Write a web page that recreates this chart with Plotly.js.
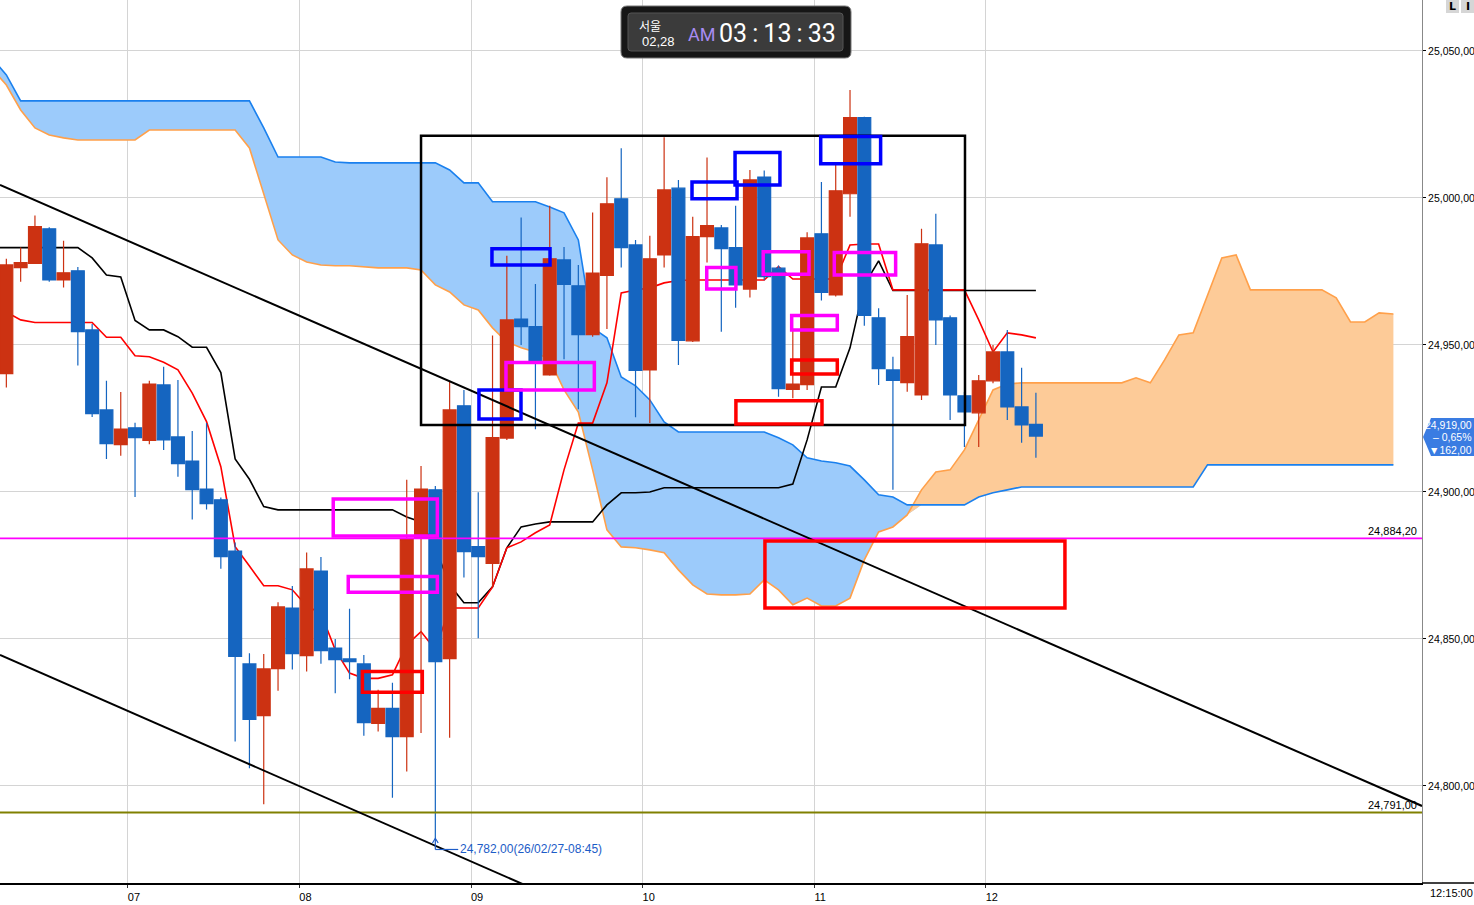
<!DOCTYPE html>
<html><head><meta charset="utf-8">
<script src="https://cdn.plot.ly/plotly-3.0.1.min.js"></script>
<style>html,body{margin:0;padding:0;background:#fff;overflow:hidden}#chart{width:1474px;height:905px}</style>
</head><body><div id="chart"></div>
<script>
// ---------- DATA ----------
const dayLabels = ['07','08','09','10','11','12'];
const dayStartIdx = [8.5, 20.5, 32.5, 44.5, 56.5, 68.5];
const priceTicks = [24800, 24850, 24900, 24950, 25000, 25050];
const priceTickText = ['24,800,00','24,850,00','24,900,00','24,950,00','25,000,00','25,050,00'];

// candles (index 0 = first visible bar)
const openP = [24940.2,24976.3,24977.7,24989.5,24972.1,24975.2,24955.1,24927.9,24916.1,24921.8,
 24917.5,24936.4,24918.7,24910.5,24901.0,24897.3,24879.9,24841.5,24823.9,24839.9,
 24860.5,24844.3,24873.1,24846.9,24843.2,24841.5,24821.3,24826.4,24816.8,24884.4,
 24900.7,24843.3,24929.3,24881.4,24875.7,24918.3,24958.8,24956.2,24939.8,24978.9,
 24970.1,24953.5,24973.6,24999.7,24984.0,24941.5,24980.6,25003.3,24951.4,24986.8,
 24989.8,24983.1,24969.0,25007.1,24976.1,24934.9,24936.5,24987.8,24967.0,25001.4,
 25027.3,24959.2,24941.5,24937.2,24933.0,24984.0,24959.2,24932.7,24926.9,24937.8,
 24947.6,24928.9,24923.0];
const highP = [24979.3,24983.1,24994.0,24990.0,24985.4,24976.5,24957.1,24937.8,24934.0,24923.5,
 24937.8,24942.6,24938.1,24920.7,24923.4,24898.1,24882.8,24845.1,24844.9,24862.5,
 24868.0,24879.4,24877.9,24850.0,24860.3,24844.5,24832.7,24835.1,24904.1,24908.8,
 24902.0,24937.4,24934.7,24899.9,24953.2,24980.3,24993.3,24970.7,24997.3,24983.3,
 24977.2,24995.0,25007.0,25016.9,24985.7,24987.1,25020.6,25006.1,24993.6,25013.7,
 24990.8,24997.3,25009.5,25009.3,24977.0,24955.1,24988.3,25005.4,25011.8,25036.7,
 25027.6,24962.5,24946.0,24967.0,24989.5,24994.6,24960.0,24934.0,24939.8,24950.0,
 24955.1,24942.2,24933.7];
const lowP = [24935.5,24971.5,24977.5,24971.5,24969.5,24943.0,24925.5,24911.2,24912.3,24898.3,
 24916.2,24914.3,24905.2,24890.6,24894.0,24873.9,24815.1,24806.0,24793.8,24832.4,
 24839.6,24838.9,24841.6,24831.5,24836.3,24817.1,24818.5,24796.0,24804.9,24818.0,
 24782.0,24816.4,24870.9,24850.2,24867.8,24917.7,24950.0,24921.3,24939.5,24945.1,
 24928.1,24952.8,24955.4,24976.3,24925.4,24923.4,24976.3,24943.2,24951.0,24978.0,
 24954.5,24962.6,24966.1,24972.0,24932.4,24931.9,24934.7,24965.1,24966.5,24993.6,
 24956.5,24936.4,24900.7,24934.1,24931.3,24950.0,24924.5,24915.3,24915.3,24937.0,
 24924.5,24916.7,24911.6];
const closeP = [24977.2,24978.0,24990.2,24972.1,24974.5,24954.5,24926.6,24916.4,24921.4,24918.5,
 24936.7,24917.7,24909.6,24900.8,24896.0,24878.0,24844.1,24822.6,24839.8,24860.9,
 24845.0,24873.8,24846.0,24843.0,24842.3,24821.5,24826.4,24816.8,24883.9,24901.0,
 24842.3,24927.9,24879.7,24878.0,24918.5,24958.5,24956.2,24944.1,24979.3,24970.6,
 24953.5,24974.4,24998.0,24983.1,24941.3,24979.3,25002.7,24951.5,24986.8,24990.6,
 24982.7,24970.4,25006.1,24973.2,24935.1,24936.7,24986.4,24967.9,25002.4,25027.3,
 24960.0,24941.9,24937.9,24952.8,24984.4,24958.5,24933.0,24927.2,24937.8,24947.6,
 24928.9,24922.8,24919.0];

// indicator lines start one bar before the first visible candle (index -1)
const lineStartIdx = -1;
const tenkan = [24962.0,24961.2,24958.5,24957.6,24957.6,24957.6,24957.6,24957.6,24952.6,24952.6,24946.3,
 24946.0,24944.1,24941.5,24933.6,24923.9,24908.6,24881.4,24874.8,24868.1,24868.1,
 24866.7,24861.2,24858.7,24846.3,24838.4,24836.6,24836.6,24837.8,24848.0,24852.5,
 24846.3,24860.5,24860.5,24860.5,24867.7,24881.0,24883.0,24886.1,24888.8,24907.5,
 24923.4,24923.4,24937.1,24967.7,24968.7,24969.4,24971.1,24971.9,24972.1,24972.1,
 24972.1,24972.1,24972.1,24972.1,24976.6,24972.4,24972.4,24972.4,24972.4,24984.0,
 24984.3,24984.3,24968.7,24968.7,24968.7,24968.7,24968.7,24968.7,24958.5,24947.6,
 24954.1,24953.4,24952.4];
const kijun = [24983.1,24983.1,24983.1,24983.1,24983.1,24983.1,24983.1,24979.6,24973.8,24973.1,24958.3,
 24955.1,24955.1,24952.8,24949.2,24949.2,24940.6,24911.2,24904.3,24895.0,24893.9,
 24893.9,24893.9,24893.9,24893.9,24893.9,24893.9,24893.9,24893.9,24891.5,24889.8,
 24881.0,24868.4,24862.3,24862.3,24867.7,24881.0,24888.1,24889.1,24889.8,24889.8,
 24889.8,24889.8,24895.6,24899.7,24899.7,24900.0,24901.4,24901.4,24901.4,24901.4,
 24901.4,24901.4,24901.4,24901.4,24901.4,24902.7,24917.7,24935.7,24935.7,24949.0,
 24970.4,24978.6,24968.5,24968.5,24968.5,24968.5,24968.5,24968.5,24968.5,24968.5,
 24968.5,24968.5,24968.5];
const spanOrange = [25043.9,25038.4,25029.9,25023.8,25021.4,25020.4,25019.7,25019.7,25019.7,25019.7,25019.7,
 25023.1,25023.1,25023.1,25023.1,25023.1,25023.1,25023.1,25017.0,25001.0,24985.7,
 24980.6,24978.2,24977.2,24976.9,24976.9,24976.5,24976.2,24976.2,24976.2,24975.5,
 24970.4,24968.0,24963.6,24961.9,24955.8,24951.0,24949.0,24947.6,24944.9,24934.7,
 24927.2,24907.5,24887.1,24881.3,24881.0,24880.3,24879.3,24873.5,24868.4,24865.3,
 24865.0,24865.0,24865.3,24870.1,24866.7,24861.6,24863.9,24861.2,24861.2,24863.9,
 24876.9,24886.4,24888.1,24892.2,24900.7,24906.8,24907.5,24914.3,24924.5,24934.7,
 24936.7,24937.1,24937.1,24937.1,24937.1,24937.1,24937.1,24937.1,24937.1,24938.8,
 24937.1,24944.9,24953.4,24954.1,24967.0,24979.6,24980.6,24968.7,24968.7,24968.7,
 24968.7,24968.7,24968.7,24966.0,24957.8,24957.8,24960.9,24960.5];
const spanBlue = [25047.5,25041.8,25033.0,25033.0,25033.0,25033.0,25033.0,25033.0,25033.0,25033.0,25033.0,
 25033.0,25033.0,25033.0,25033.0,25033.0,25033.0,25033.0,25033.0,25023.8,25013.9,
 25013.9,25013.9,25013.9,25012.2,25011.9,25011.9,25011.9,25011.9,25011.9,25011.9,
 25011.9,25009.5,25005.1,25005.1,24998.7,24998.7,24998.7,24998.7,24996.9,24994.9,
 24985.7,24955.8,24952.4,24939.1,24936.1,24931.3,24923.8,24920.4,24920.4,24920.4,
 24920.4,24920.4,24920.4,24920.4,24918.4,24916.0,24911.6,24910.5,24909.9,24908.8,
 24904.1,24899.0,24898.3,24895.6,24895.6,24895.6,24895.6,24895.6,24898.3,24899.7,
 24900.7,24901.7,24901.7,24901.7,24901.7,24901.7,24901.7,24901.7,24901.7,24901.7,
 24901.7,24901.7,24901.7,24901.7,24909.2,24909.2,24909.2,24909.2,24909.2,24909.2,
 24909.2,24909.2,24909.2,24909.2,24909.2,24909.2,24909.2,24909.2];

const levelMagenta = 24884.2, levelMagentaText = '24,884,20';
const levelOlive = 24791.0, levelOliveText = '24,791,00';
const lastPriceText = ['24,919,00', '– 0,65%', '▼162,00'];
const lowIdx = 30, lowPrice = 24782.0, lowText = '24,782,00(26/02/27-08:45)';
const trendUpper = [[-0.444, 25004.4], [99.0, 24793.2]];
const trendLower = [[-0.444, 24844.6], [99.0, 24632.5]];
const frameBox = [29.0, 67.04, 24922.8, 25021.1];
const blueBoxes = [[33.96,38.02,24977.2,24982.7],[33.05,35.99,24924.8,24934.7],[47.95,51.1,24999.7,25005.4],[50.96,54.1,25004.4,25015.4],[56.95,61.14,25011.6,25020.9]];
const magentaBoxes = [[22.86,30.14,24885.0,24897.6],[23.91,30.14,24865.9,24871.2],[34.94,41.12,24934.7,24944.0],[48.98,51.02,24969.0,24976.3],[52.93,56.13,24974.0,24981.7],[54.92,58.11,24955.1,24960.0],[57.9,62.19,24973.8,24981.4]];
const redBoxes = [[24.9,29.09,24831.9,24838.9],[54.92,58.11,24940.1,24944.9],[51.02,57.04,24923.1,24931.0],[53.05,74.03,24860.5,24883.3]];
const clockCity = '서울', clockDate = '02,28', clockAmPm = 'AM', clockTime = '03:13:33';
const lastTimeText = '12:15:00';

// ---------- DRAW ----------
const W = 1474, H = 905, MR = 52, MB = 22;
const PW = W - MR, PH = H - MB;
const X = p => p / PW, Y = p => 1 - p / PH;
const FONT = '"Liberation Sans",Arial,sans-serif';
const RED = '#cc3212', BLUE = '#1565c0';
const XR = [-0.444, 99.0], YR = [24767.0, 25067.3];

const idx = openP.map((_, i) => i);
const lIdx = kijun.map((_, i) => i + lineStartIdx);
const cIdx = spanBlue.map((_, i) => i + lineStartIdx);
const cloudLow = spanBlue.map((b, i) => Math.min(b, spanOrange[i]));

const traces = [
  {x: cIdx, y: cloudLow, mode: 'lines', line: {width: 0, color: 'rgba(0,0,0,0)'}, hoverinfo: 'skip'},
  {x: cIdx, y: spanBlue, mode: 'lines', fill: 'tonexty', fillcolor: '#9ccbfb', line: {width: 0, color: 'rgba(0,0,0,0)'}, hoverinfo: 'skip'},
  {x: cIdx, y: cloudLow, mode: 'lines', line: {width: 0, color: 'rgba(0,0,0,0)'}, hoverinfo: 'skip'},
  {x: cIdx, y: spanOrange, mode: 'lines', fill: 'tonexty', fillcolor: '#fdcb98', line: {width: 0, color: 'rgba(0,0,0,0)'}, hoverinfo: 'skip'},
  {x: cIdx, y: spanOrange, mode: 'lines', line: {width: 1.6, color: '#ffa04a'}, hoverinfo: 'skip'},
  {x: cIdx, y: spanBlue, mode: 'lines', line: {width: 1.6, color: '#1a80ee'}, hoverinfo: 'skip'},
  {x: lIdx, y: kijun, mode: 'lines', line: {width: 1.6, color: '#000'}, hoverinfo: 'skip'},
  {x: lIdx, y: tenkan, mode: 'lines', line: {width: 1.6, color: '#ff0000'}, hoverinfo: 'skip'},
  {type: 'candlestick', xaxis: 'x2', yaxis: 'y2', x: idx, open: openP, high: highP, low: lowP, close: closeP,
   increasing: {line: {color: RED, width: 1.2}, fillcolor: RED},
   decreasing: {line: {color: BLUE, width: 1.2}, fillcolor: BLUE},
   whiskerwidth: 0, hoverinfo: 'skip'}
];

function boxShapes(list, color, width) {
  return list.map(b => ({type: 'rect', xref: 'x', yref: 'y', x0: b[0], x1: b[1], y0: b[2], y1: b[3],
    line: {color: color, width: width}, fillcolor: 'rgba(0,0,0,0)', layer: 'above'}));
}
function roundRect(x0, y0, x1, y1, r) {
  const a = X(x0), b = X(x1), c = Y(y0), d = Y(y1), rx = r / PW, ry = r / PH;
  return `M ${a + rx},${c} L ${b - rx},${c} Q ${b},${c} ${b},${c - ry} L ${b},${d + ry} Q ${b},${d} ${b - rx},${d} L ${a + rx},${d} Q ${a},${d} ${a},${d + ry} L ${a},${c - ry} Q ${a},${c} ${a + rx},${c} Z`;
}

const shapes = [
  {type: 'line', xref: 'paper', yref: 'y', x0: 0, x1: 1, y0: levelMagenta, y1: levelMagenta, line: {color: '#ff00ff', width: 1.6}},
  {type: 'line', xref: 'paper', yref: 'y', x0: 0, x1: 1, y0: levelOlive, y1: levelOlive, line: {color: '#808000', width: 2}},
  {type: 'line', xref: 'x', yref: 'y', x0: trendUpper[0][0], y0: trendUpper[0][1], x1: trendUpper[1][0], y1: trendUpper[1][1], line: {color: '#000', width: 2}},
  {type: 'line', xref: 'x', yref: 'y', x0: trendLower[0][0], y0: trendLower[0][1], x1: trendLower[1][0], y1: trendLower[1][1], line: {color: '#000', width: 2}},
  {type: 'rect', xref: 'x', yref: 'y', x0: frameBox[0], x1: frameBox[1], y0: frameBox[2], y1: frameBox[3], line: {color: '#000', width: 2.5}},
  ...boxShapes(blueBoxes, '#0000ff', 3.5),
  ...boxShapes(magentaBoxes, '#ff00ff', 3.5),
  ...boxShapes(redBoxes, '#ff0000', 3.5),
  {type: 'line', xref: 'x', yref: 'y', x0: lowIdx, x1: lowIdx, y0: lowPrice, y1: lowPrice - 3.6, line: {color: '#1c5cc7', width: 1.2}},
  {type: 'line', xref: 'x', yref: 'y', x0: lowIdx, x1: lowIdx + 1.6, y0: lowPrice - 3.6, y1: lowPrice - 3.6, line: {color: '#1c5cc7', width: 1.2}},
  {type: 'path', xref: 'x', yref: 'y', path: `M ${lowIdx - 0.2},${lowPrice - 1.4} L ${lowIdx},${lowPrice + 0.2} L ${lowIdx + 0.2},${lowPrice - 1.4}`, line: {color: '#1c5cc7', width: 1.2}},
  {type: 'line', xref: 'paper', yref: 'paper', x0: 1, x1: W / PW, y0: 0, y1: 0, line: {color: '#000', width: 1.5}},
  {type: 'path', xref: 'paper', yref: 'paper', path: roundRect(621, 6, 851, 58, 6), fillcolor: '#161616', line: {color: '#777', width: 1}},
  {type: 'path', xref: 'paper', yref: 'paper', path: roundRect(628, 13, 843, 51, 3), fillcolor: '#3b3b3b', line: {color: '#555', width: 1}},
  {type: 'path', xref: 'paper', yref: 'paper',
   path: `M ${X(1423)},${Y(437)} L ${X(1431)},${Y(418)} L ${X(1474)},${Y(418)} L ${X(1474)},${Y(456)} L ${X(1431)},${Y(456)} Z`,
   fillcolor: '#3a7ce2', line: {width: 0}},
  {type: 'rect', xref: 'paper', yref: 'paper', x0: X(1446), x1: X(1459), y0: Y(13), y1: Y(0), fillcolor: '#d6d6d6', line: {width: 0}},
  {type: 'rect', xref: 'paper', yref: 'paper', x0: X(1461), x1: X(1474), y0: Y(13), y1: Y(0), fillcolor: '#d6d6d6', line: {width: 0}}
];

const annotations = [
  {xref: 'paper', yref: 'y', x: X(1419), y: levelMagenta, xanchor: 'right', yanchor: 'bottom', text: levelMagentaText, showarrow: false, font: {family: FONT, size: 11, color: '#000'}, yshift: -1},
  {xref: 'paper', yref: 'y', x: X(1419), y: levelOlive, xanchor: 'right', yanchor: 'bottom', text: levelOliveText, showarrow: false, font: {family: FONT, size: 11, color: '#000'}, yshift: -1},
  {xref: 'x', yref: 'y', x: lowIdx + 1.6, y: lowPrice - 3.6, xanchor: 'left', yanchor: 'middle', text: lowText, showarrow: false, font: {family: FONT, size: 12, color: '#1c5cc7'}},
  {xref: 'paper', yref: 'paper', x: X(1474), y: Y(424.5), xanchor: 'right', yanchor: 'middle', text: lastPriceText[0], showarrow: false, font: {family: FONT, size: 10.5, color: '#fff'}},
  {xref: 'paper', yref: 'paper', x: X(1474), y: Y(437), xanchor: 'right', yanchor: 'middle', text: lastPriceText[1], showarrow: false, font: {family: FONT, size: 10.5, color: '#fff'}},
  {xref: 'paper', yref: 'paper', x: X(1474), y: Y(449.5), xanchor: 'right', yanchor: 'middle', text: lastPriceText[2], showarrow: false, font: {family: FONT, size: 10.5, color: '#fff'}},
  {xref: 'paper', yref: 'paper', x: X(1428), y: Y(893), xanchor: 'left', yanchor: 'middle', text: lastTimeText, showarrow: false, font: {family: FONT, size: 11, color: '#000'}},
  {xref: 'paper', yref: 'paper', x: X(650), y: Y(26), xanchor: 'center', yanchor: 'middle', text: clockCity, showarrow: false, font: {family: '"Noto Sans CJK KR",sans-serif', size: 12, color: '#fff'}},
  {xref: 'paper', yref: 'paper', x: X(658), y: Y(42), xanchor: 'center', yanchor: 'middle', text: clockDate, showarrow: false, font: {family: FONT, size: 13, color: '#fff'}},
  {xref: 'paper', yref: 'paper', x: X(701), y: Y(34), xanchor: 'center', yanchor: 'middle', text: clockAmPm, showarrow: false, font: {family: 'Roboto,sans-serif', size: 18, color: '#a88cf2'}},
  {xref: 'paper', yref: 'paper', x: X(777), y: Y(33), xanchor: 'center', yanchor: 'middle', text: clockTime.split(':').join('\u2009:\u2009'), showarrow: false, font: {family: 'Roboto,sans-serif', size: 25, color: '#fff'}},
  {xref: 'paper', yref: 'paper', x: X(1452.5), y: Y(6.5), xanchor: 'center', yanchor: 'middle', text: '<b>L</b>', showarrow: false, font: {family: 'DejaVu Sans,sans-serif', size: 11, color: '#000'}},
  {xref: 'paper', yref: 'paper', x: X(1467.5), y: Y(6.5), xanchor: 'center', yanchor: 'middle', text: '<b>I</b>', showarrow: false, font: {family: 'DejaVu Sans,sans-serif', size: 11, color: '#000'}}
];

const layout = {
  width: W, height: H, margin: {l: 0, r: MR, t: 0, b: MB, pad: 0},
  paper_bgcolor: '#fff', plot_bgcolor: '#fff', showlegend: false,
  boxgap: 0.1, boxgroupgap: 0,
  xaxis: {range: XR, tickmode: 'array', tickvals: dayStartIdx, ticktext: dayLabels,
    showgrid: true, gridcolor: '#d4d4d4', gridwidth: 1, zeroline: false,
    showline: true, linecolor: '#000', linewidth: 1.5, ticks: 'outside', ticklen: 3, tickcolor: '#333',
    tickfont: {family: FONT, size: 11, color: '#000'}, ticklabelshift: 6,
    rangeslider: {visible: false}, fixedrange: true},
  yaxis: {side: 'right', range: YR, tickmode: 'array', tickvals: priceTicks, ticktext: priceTickText,
    showgrid: true, gridcolor: '#d4d4d4', gridwidth: 1, zeroline: false,
    showline: true, linecolor: '#888', linewidth: 1, ticks: 'outside', ticklen: 3, tickcolor: '#000',
    tickfont: {family: FONT, size: 10.5, color: '#000'}, fixedrange: true},
  xaxis2: {overlaying: 'x', range: XR, visible: false, showgrid: false, zeroline: false, rangeslider: {visible: false}, fixedrange: true},
  yaxis2: {overlaying: 'y', side: 'right', range: YR, visible: false, showgrid: false, zeroline: false, fixedrange: true},
  shapes: shapes, annotations: annotations
};

Plotly.newPlot('chart', traces, layout, {displayModeBar: false, staticPlot: true});
</script>
</body></html>
